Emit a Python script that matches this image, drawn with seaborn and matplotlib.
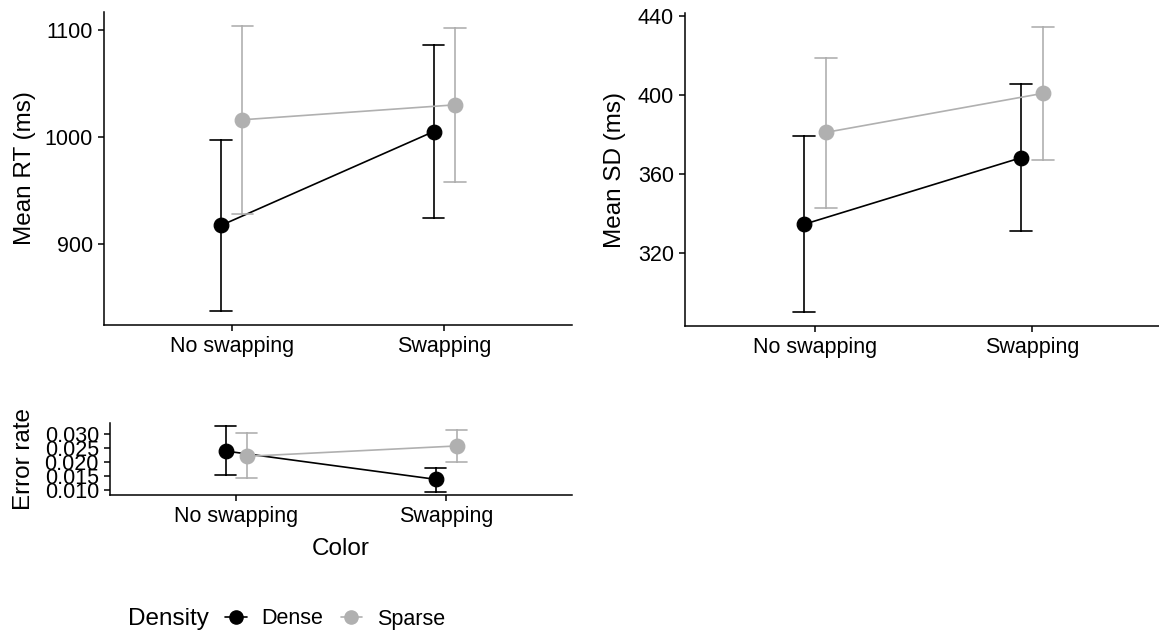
import numpy as np
import pandas as pd
import matplotlib
matplotlib.use("Agg")
import matplotlib.pyplot as plt
from matplotlib.lines import Line2D
import seaborn as sns

# Conditions
colors = ["No swapping", "Swapping"]
densities = ["Dense", "Sparse"]

# Mean RT (ms): means and confidence bounds per density, ordered as `colors`
rt_mean = {"Dense": [917, 1005], "Sparse": [1016, 1030]}
rt_low = {"Dense": [837, 924], "Sparse": [928, 958]}
rt_high = {"Dense": [997, 1086], "Sparse": [1104, 1102]}

# Mean SD (ms)
sd_mean = {"Dense": [334.6, 368.2], "Sparse": [381.0, 400.7]}
sd_low = {"Dense": [290.4, 331.3], "Sparse": [342.7, 367.3]}
sd_high = {"Dense": [379.3, 405.4], "Sparse": [418.7, 434.1]}

# Error rate
er_mean = {"Dense": [0.0238, 0.0137], "Sparse": [0.0219, 0.0256]}
er_low = {"Dense": [0.0152, 0.0093], "Sparse": [0.0140, 0.0198]}
er_high = {"Dense": [0.0326, 0.0179], "Sparse": [0.0301, 0.0312]}

palette = {"Dense": "#000000", "Sparse": "#B0B0B0"}


def long_table(mean, low, high):
    """Three rows per cell (low, mean, high): the median is the mean and
    the min/max give the interval drawn as error bars."""
    rows = []
    for d in densities:
        for i, c in enumerate(colors):
            for v in (low[d][i], mean[d][i], high[d][i]):
                rows.append({"Color": c, "Density": d, "value": v})
    return pd.DataFrame(rows)


sns.set_theme(style="ticks")
plt.rcParams["font.family"] = ["Liberation Sans", "DejaVu Sans"]
plt.rcParams["text.color"] = "black"
plt.rcParams["axes.labelcolor"] = "black"
plt.rcParams["axes.edgecolor"] = "black"
plt.rcParams["xtick.color"] = "black"
plt.rcParams["ytick.color"] = "black"
plt.rcParams["axes.linewidth"] = 1.1
plt.rcParams["xtick.major.width"] = 1.1
plt.rcParams["ytick.major.width"] = 1.1
plt.rcParams["xtick.major.size"] = 4
plt.rcParams["ytick.major.size"] = 4
plt.rcParams["xtick.major.pad"] = 4
plt.rcParams["ytick.major.pad"] = 4

W, H = 1159, 634
fig = plt.figure(figsize=(W / 100, H / 100), dpi=100)


def box(left, right, top, bottom):
    return [left / W, 1 - bottom / H, (right - left) / W, (bottom - top) / H]


ax_rt = fig.add_axes(box(104, 572, 12, 325))
ax_sd = fig.add_axes(box(685, 1162, 13, 326))
ax_er = fig.add_axes(box(110, 572, 423, 495))

TICK = 15.5
TITLE = 17.5


def draw(ax, mean, low, high, ylabel, ylim, yticks, fmt, label_x):
    df = long_table(mean, low, high)
    sns.pointplot(
        data=df, x="Color", y="value", hue="Density",
        order=colors, hue_order=densities, palette=palette,
        estimator="median", errorbar=lambda v: (v.min(), v.max()),
        dodge=0.1, capsize=0.1, markersize=10.5, linewidth=1.2,
        err_kws={"linewidth": 1.2}, legend=False, ax=ax,
    )
    ax.set_xlim(-0.6, 1.6)
    ax.set_ylim(*ylim)
    ax.set_yticks(yticks)
    ax.set_yticklabels([fmt.format(t) for t in yticks])
    ax.set_xlabel("")
    ax.set_ylabel(ylabel, fontsize=TITLE, color="black")
    ax.yaxis.label.set_va("center")
    ax.yaxis.set_label_coords(label_x, 0.5)
    ax.tick_params(labelsize=TICK, colors="black")
    sns.despine(ax=ax)


draw(ax_rt, rt_mean, rt_low, rt_high, "Mean RT (ms)", (823.7, 1117),
     [900, 1000, 1100], "{:.0f}", (25 - 104) / 468)
draw(ax_sd, sd_mean, sd_low, sd_high, "Mean SD (ms)", (283.2, 441.3),
     [320, 360, 400, 440], "{:.0f}", (615 - 685) / 477)
draw(ax_er, er_mean, er_low, er_high, "Error rate", (0.0081, 0.0338),
     [0.010, 0.015, 0.020, 0.025, 0.030], "{:.3f}", (24 - 110) / 462)

ax_er.set_xlabel("Color", fontsize=TITLE, color="black")
ax_er.xaxis.label.set_va("center")
ax_er.xaxis.set_label_coords(0.5, (495 - 549) / 72)

# Horizontal legend at the bottom
fig.text(128 / W, 1 - 619 / H, "Density", fontsize=TITLE, va="center",
         ha="left", color="black")
handles = [
    Line2D([], [], color=palette[d], marker="o", markersize=9.5, linewidth=1.2)
    for d in densities
]
leg = fig.legend(
    handles, densities, loc="center left", bbox_to_anchor=(225 / W, 1 - 619 / H),
    ncol=2, frameon=False, fontsize=TICK, handlelength=1.0, handletextpad=0.7,
    columnspacing=0.8, borderpad=0, borderaxespad=0,
)
for t in leg.get_texts():
    t.set_color("black")

fig.savefig("out.png", dpi=100)
